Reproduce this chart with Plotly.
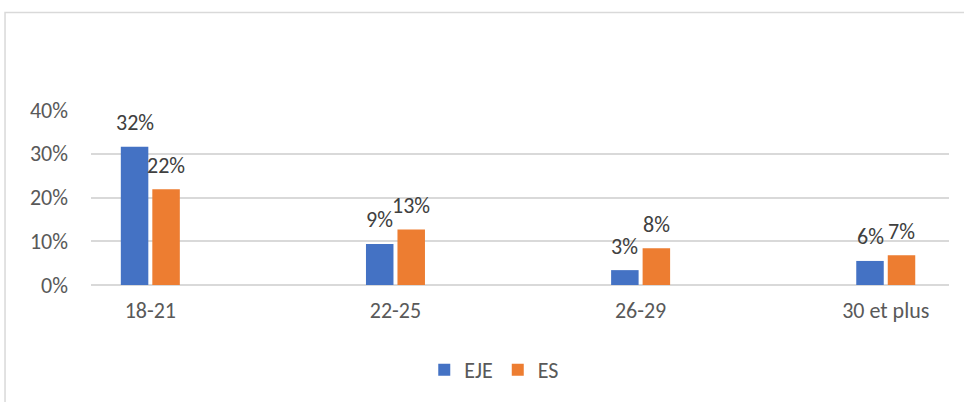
import plotly.graph_objects as go

categories = ["18-21", "22-25", "26-29", "30 et plus"]
eje_values = [0.316, 0.094, 0.034, 0.055]
es_values = [0.219, 0.127, 0.084, 0.068]
y_ticks = [0, 0.1, 0.2, 0.3, 0.4]
y_tick_labels = ["0%", "10%", "20%", "30%", "40%"]

BLUE = "#4472C4"
ORANGE = "#ED7D31"
FONT = "Carlito, Liberation Sans, Arial, sans-serif"

fig = go.Figure()
fig.add_trace(go.Bar(x=categories, y=eje_values, name="EJE", marker_color=BLUE,
                     marker_line_width=0))
fig.add_trace(go.Bar(x=categories, y=es_values, name="ES", marker_color=ORANGE,
                     marker_line_width=0))

annotations = []
for series, shift in ((eje_values, -15.75), (es_values, 15.75)):
    for c, v in zip(categories, series):
        annotations.append(dict(
            x=c, y=v, xref="x", yref="y", text=f"{round(v * 100):.0f}%",
            showarrow=False, xshift=shift, yshift=24, yanchor="middle",
            font=dict(family=FONT, size=22, color="#404040")))

fig.update_layout(
    width=964, height=402,
    margin=dict(l=91, r=15, t=110, b=116),
    paper_bgcolor="white", plot_bgcolor="white",
    barmode="group", bargap=0.743, bargroupgap=0.127,
    font=dict(family=FONT, size=22, color="#595959"),
    showlegend=True,
    legend=dict(orientation="h", x=0.47, xanchor="center", y=-0.477,
                yanchor="middle", font=dict(size=22, color="#595959"),
                itemwidth=30, traceorder="normal"),
    annotations=annotations,
    shapes=[dict(type="rect", xref="paper", yref="paper",
                 x0=-0.1002, x1=1.05, y0=-0.75, y1=1.557,
                 line=dict(color="#D9D9D9", width=1.5), layer="below")],
)
fig.update_xaxes(type="category", range=[-0.242, 3.258], showgrid=False,
                 showline=False, ticks="", ticklabelstandoff=10,
                 tickfont=dict(size=22, color="#595959"))
fig.update_yaxes(range=[0, 0.4], tickvals=y_ticks, ticktext=y_tick_labels,
                 showgrid=True, gridcolor="#D9D9D9", gridwidth=1.5,
                 zeroline=True, zerolinecolor="#D9D9D9", zerolinewidth=1.5,
                 showline=False, ticks="", ticklabelstandoff=22,
                 tickfont=dict(size=22, color="#595959"))

fig.write_html("out.html", config={"displayModeBar": False},
               post_script="document.body.style.margin='0';document.body.style.padding='0';")
